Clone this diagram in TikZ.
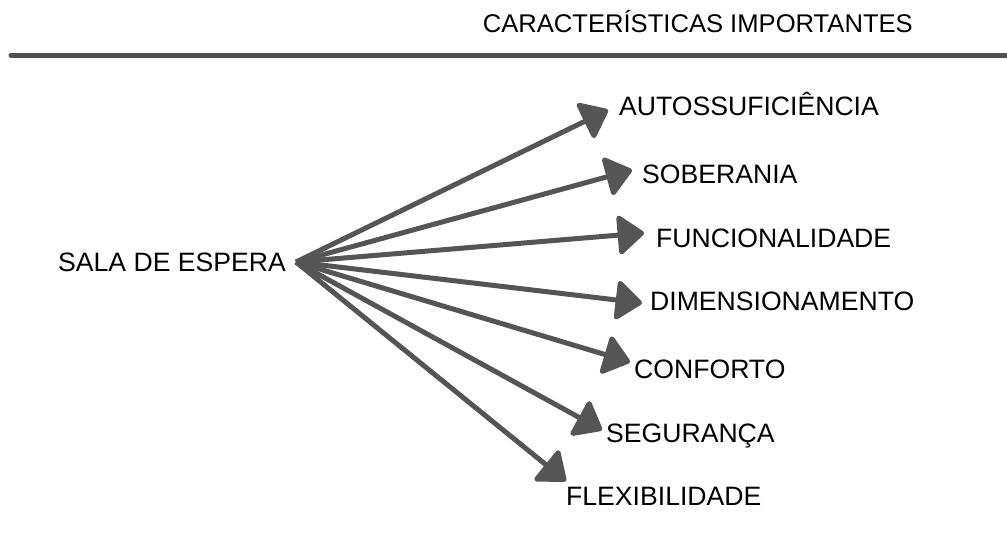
\documentclass[tikz,border=0pt]{standalone}
\usepackage{fontspec}
\setmainfont{Liberation Sans}
\usetikzlibrary{arrows.meta}
\definecolor{arrgray}{HTML}{555555}
\definecolor{rulegray}{HTML}{505050}
\tikzset{
  lbl/.style={anchor=base west, inner sep=0pt, font=\fontsize{26.6}{30}\selectfont, text=black},
  ttl/.style={anchor=base east, inner sep=0pt, font=\fontsize{25.6}{29}\selectfont, text=black},
  arr/.style={draw=arrgray, line width=5pt, -{Triangle[length=28pt,width=43pt,round]}, fill=arrgray},
  hrule/.style={draw=rulegray, line width=5pt, line cap=round}
}
\begin{document}
\begin{tikzpicture}[x=1pt,y=-1pt]
\useasboundingbox (0,0) rectangle (1007,533);
\node[ttl] (title) at (913,32) {CARACTERÍSTICAS IMPORTANTES};
\coordinate (ruleL) at (11,55);
\coordinate (ruleR) at (1007,55);
\draw[hrule] (ruleL) -- (ruleR);
\node[lbl] (sala) at (58,271) {SALA DE ESPERA};
\coordinate (hub) at (296,262);
\node[lbl] (l1) at (619,115) {AUTOSSUFICIÊNCIA};
\node[lbl] (l2) at (642,183) {SOBERANIA};
\node[lbl] (l3) at (656,247) {FUNCIONALIDADE};
\node[lbl] (l4) at (650,310) {DIMENSIONAMENTO};
\node[lbl] (l5) at (634,378) {CONFORTO};
\node[lbl] (l6) at (606,442) {SEGURANÇA};
\node[lbl] (l7) at (566,505) {FLEXIBILIDADE};
\coordinate (t1) at (608,110);
\coordinate (t2) at (632,170);
\coordinate (t3) at (644,233);
\coordinate (t4) at (642,303);
\coordinate (t5) at (630,362);
\coordinate (t6) at (602,430);
\coordinate (t7) at (566,481);
\foreach \t in {t1,t2,t3,t4,t5,t6,t7}{
  \draw[arr] (hub) -- (\t);
}
\end{tikzpicture}
\end{document}
